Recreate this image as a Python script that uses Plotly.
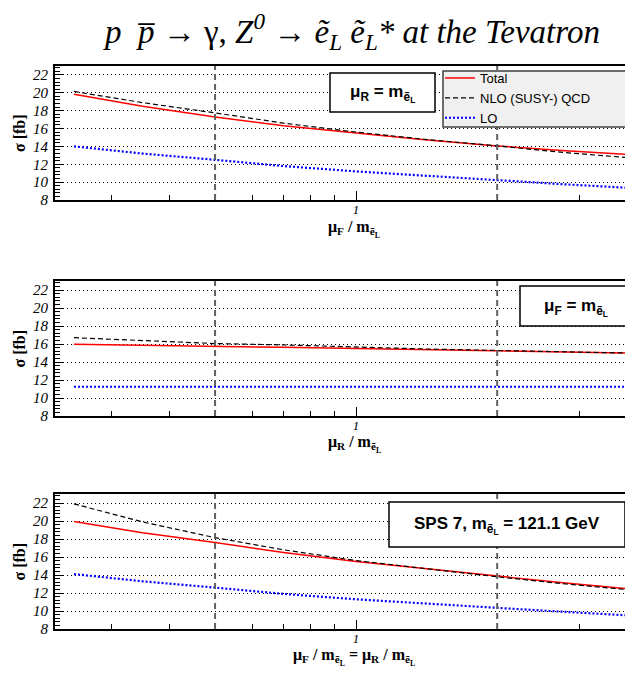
import plotly.graph_objects as go

# ---------------- data ----------------
SCALE = [0.25, 0.35, 0.5, 0.7, 1.0, 1.4, 2.0, 2.8, 4.0]

# panel 1: mu_F varied, mu_R = m
P1_TOTAL = [19.85, 18.5, 17.3, 16.3, 15.5, 14.75, 14.05, 13.5, 13.05]
P1_NLO   = [20.15, 18.9, 17.75, 16.6, 15.6, 14.8, 14.05, 13.3, 12.65]
P1_LO    = [14.0, 13.2, 12.5, 11.8, 11.2, 10.7, 10.2, 9.75, 9.3]

# panel 2: mu_R varied, mu_F = m
P2_TOTAL = [15.97, 15.88, 15.78, 15.63, 15.5, 15.4, 15.27, 15.12, 14.97]
P2_NLO   = [16.7, 16.35, 16.05, 15.9, 15.65, 15.45, 15.28, 15.12, 14.97]
P2_LO    = [11.25, 11.25, 11.25, 11.25, 11.25, 11.25, 11.25, 11.25, 11.25]

# panel 3: mu_F = mu_R varied
P3_TOTAL = [19.95, 18.7, 17.6, 16.5, 15.5, 14.7, 13.9, 13.1, 12.35]
P3_NLO   = [21.9, 19.9, 18.15, 16.8, 15.6, 14.7, 13.8, 13.0, 12.27]
P3_LO    = [14.1, 13.3, 12.6, 11.9, 11.3, 10.8, 10.35, 9.9, 9.45]

SERIES_NAMES = ["Total", "NLO (SUSY-) QCD", "LO"]
REF_LINES = [0.5, 2.0]
Y_TICKS = [8, 10, 12, 14, 16, 18, 20, 22]
X_MAJOR = [1]
X_MAJOR_TEXT = ["<i>1</i>"]
X_MINOR = [0.3, 0.4, 0.5, 0.6, 0.7, 0.8, 0.9, 2, 3]

PANEL_LABELS = [
    "<b>μ<sub>R</sub> = m<sub>ẽ<sub>L</sub></sub></b>",
    "<b>μ<sub>F</sub> = m<sub>ẽ<sub>L</sub></sub></b>",
    "<b>SPS 7, m<sub>ẽ<sub>L</sub></sub> = 121.1 GeV</b>",
]
X_TITLES = [
    "<b>μ<sub>F</sub> / m<sub>ẽ<sub>L</sub></sub></b>",
    "<b>μ<sub>R</sub> / m<sub>ẽ<sub>L</sub></sub></b>",
    "<b>μ<sub>F</sub> / m<sub>ẽ<sub>L</sub></sub> = μ<sub>R</sub> / m<sub>ẽ<sub>L</sub></sub></b>",
]
TITLE = "<i>p  p̅ </i>→ γ, <i>Z<sup>0</sup></i> → <i>ẽ<sub>L</sub> ẽ<sub>L</sub>* at the Tevatron</i>"

# ---------------- layout helpers ----------------
W, H = 633, 673
OFF = 8  # page body margin
def px(x):
    return (x - OFF) / W
def py(y):
    return 1 - (y - OFF) / H

SERIF = "Liberation Serif"
SANS = "Liberation Sans"

panels = [(P1_TOTAL, P1_NLO, P1_LO), (P2_TOTAL, P2_NLO, P2_LO), (P3_TOTAL, P3_NLO, P3_LO)]
frames = [(66, 200), (281, 416), (494, 629)]   # top, bottom in pixels
X_LEFT, X_RIGHT = 55, 634
styles = [
    dict(color="#ff0000", width=1.5, dash="solid"),
    dict(color="#000000", width=1.2, dash="5px,3px"),
    dict(color="#0000ff", width=2.2, dash="2px,2px"),
]

def note(text, x, y, size, family, angle=0):
    fig.add_annotation(text=text, xref="paper", yref="paper", x=px(x), y=py(y),
                       xanchor="center", yanchor="middle", textangle=angle,
                       showarrow=False, font=dict(family=family, size=size, color="black"))

fig = go.Figure()
for i, (vals, (top, bot)) in enumerate(zip(panels, frames)):
    n = "" if i == 0 else str(i + 1)
    for j, ys in enumerate(vals):
        fig.add_trace(go.Scatter(
            x=SCALE, y=ys, mode="lines", name=SERIES_NAMES[j],
            line=styles[j], showlegend=(i == 0),
            xaxis="x" + n, yaxis="y" + n,
        ))
    fig.layout["xaxis" + n] = dict(
        type="log", range=[-0.6426, 0.593],
        domain=[px(X_LEFT), px(X_RIGHT)],
        anchor="y" + n, automargin=False,
        tickmode="array", tickvals=X_MAJOR, ticktext=X_MAJOR_TEXT,
        ticks="inside", ticklen=9, tickwidth=1, tickcolor="black",
        tickfont=dict(family=SERIF, size=13, color="black"),
        ticklabelstandoff=-4,
        minor=dict(tickmode="array", tickvals=X_MINOR, ticks="inside",
                   ticklen=5, tickwidth=1, tickcolor="black", showgrid=False),
        showgrid=False, zeroline=False,
        showline=True, linecolor="black", linewidth=2, mirror=True,
    )
    fig.layout["yaxis" + n] = dict(
        range=[8, 23], domain=[py(bot), py(top)], anchor="x" + n, automargin=False,
        tickmode="array", tickvals=Y_TICKS,
        ticks="inside", ticklen=9, tickwidth=1, tickcolor="black",
        tickfont=dict(family=SERIF, size=15, color="black", style="italic"),
        ticklabelstandoff=2,
        minor=dict(dtick=0.4, tick0=0, ticks="inside", ticklen=5,
                   tickwidth=1, tickcolor="black", showgrid=False),
        showgrid=True, gridcolor="black", gridwidth=1, griddash="1px,3px",
        zeroline=False,
        showline=True, linecolor="black", linewidth=2, mirror=True,
    )
    for xv in REF_LINES:
        fig.add_shape(type="line", xref="x" + n, yref="y" + n + " domain",
                      x0=xv, x1=xv, y0=0, y1=1,
                      line=dict(color="#606060", width=2, dash="6px,4px"))
    note("<b>σ [fb]</b>", 19, (top + bot) / 2, 16, SERIF, angle=-90)

# x titles
for yy, t in zip([229, 444, 657], X_TITLES):
    note(t, 354, yy, 16, SERIF)

# label boxes
boxes = [(330, 73, 435, 112), (520, 286, 631, 326), (389, 502, 625, 547)]
for (x0, y0, x1, y1), lab in zip(boxes, PANEL_LABELS):
    fig.add_shape(type="rect", xref="paper", yref="paper",
                  x0=px(x0), x1=px(x1), y0=py(y1), y1=py(y0),
                  fillcolor="white", line=dict(color="black", width=1.5), layer="above")
    note(lab, (x0 + x1) / 2, (y0 + y1) / 2 + 1, 17, SANS)

# legend box
fig.add_shape(type="rect", xref="paper", yref="paper",
              x0=px(443), x1=px(632), y0=py(127), y1=py(71),
              fillcolor="#f0f0f0", line=dict(color="#404040", width=1.5), layer="above")

note(TITLE, 351, 32, 33, SERIF)

fig.update_layout(
    width=W, height=H, margin=dict(l=0, r=0, t=0, b=0),
    paper_bgcolor="white", plot_bgcolor="white",
    legend=dict(x=px(440), y=py(63), xanchor="left", yanchor="top",
                bgcolor="rgba(0,0,0,0)", borderwidth=0,
                font=dict(family=SANS, size=13, color="black"),
                tracegroupgap=0, itemwidth=30),
)

fig.write_html("out.html")
